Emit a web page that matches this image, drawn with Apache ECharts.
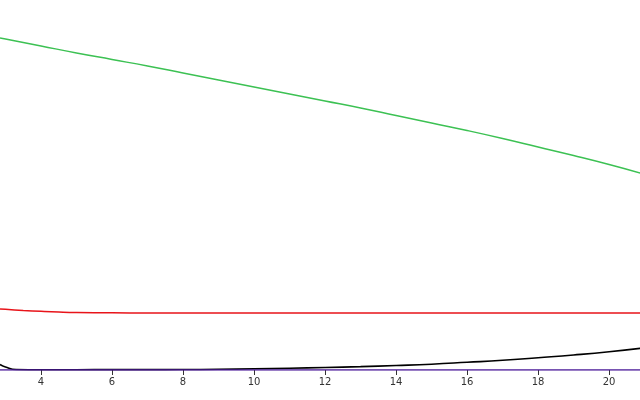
<!DOCTYPE html>
<html>
<head>
<meta charset="utf-8">
<script src="https://cdn.jsdelivr.net/npm/echarts@6/dist/echarts.min.js"></script>
<style>html,body{margin:0;padding:0;background:#fff}#c{width:640px;height:400px}</style>
</head>
<body>
<div id="c"></div>
<script>
var xTicks = [4, 6, 8, 10, 12, 14, 16, 18, 20];
var greenX = [2.845, 3, 4, 5, 6, 7, 8, 9, 10, 11, 12, 13, 14, 15, 16, 17, 18, 19, 20, 21];
var greenY = [89.7, 89.46, 87.57, 85.68, 83.92, 82.16, 80.27, 78.38, 76.49, 74.59, 72.70, 70.81, 68.78, 66.76, 64.73, 62.57, 60.27, 57.97, 55.54, 52.9];
var redX = [2.845, 3, 3.5, 4, 4.5, 5, 6, 7, 8, 10, 12, 14, 16, 18, 20, 21];
var redY = [16.5, 16.4, 16.1, 15.85, 15.65, 15.52, 15.44, 15.41, 15.41, 15.41, 15.41, 15.41, 15.41, 15.41, 15.41, 15.41];
var blackX = [2.845, 3, 3.3, 4, 5, 6, 7, 8, 9, 10, 11, 12, 13, 14, 15, 16, 17, 18, 19, 20, 21];
var blackY = [1.49, 0.81, 0.14, 0.08, 0.08, 0.1, 0.1, 0.12, 0.19, 0.32, 0.49, 0.68, 0.92, 1.22, 1.57, 2.08, 2.62, 3.32, 4.05, 4.92, 6.0];
var purpleX = [2.845, 21];
var purpleY = [0, 0];

function pairs(xs, ys) { return xs.map(function (x, i) { return [x, ys[i]]; }); }

var chart = echarts.init(document.getElementById('c'));
chart.setOption({
  animation: false,
  grid: { left: 0, right: 0, top: 0, bottom: 30 },
  xAxis: {
    type: 'value', min: 2.845, max: 20.87,
    axisLine: { show: false },
    splitLine: { show: false },
    axisTick: { show: true, customValues: xTicks, length: 5, lineStyle: { color: '#333', width: 1 } },
    axisLabel: { customValues: xTicks, color: '#333', fontSize: 10, fontFamily: 'DejaVu Sans', margin: 7 }
  },
  yAxis: { type: 'value', min: 0, max: 100, show: false },
  series: [
    { type: 'line', data: pairs(greenX, greenY), showSymbol: false, smooth: true, lineStyle: { color: '#3cc153', width: 1.5 } },
    { type: 'line', data: pairs(redX, redY), showSymbol: false, smooth: true, lineStyle: { color: '#e8141a', width: 1.5 } },
    { type: 'line', data: pairs(blackX, blackY), showSymbol: false, smooth: true, lineStyle: { color: '#000000', width: 1.6 } },
    { type: 'line', data: pairs(purpleX, purpleY), showSymbol: false, lineStyle: { color: '#4b1a99', width: 1.6 } }
  ]
});
</script>
</body>
</html>
